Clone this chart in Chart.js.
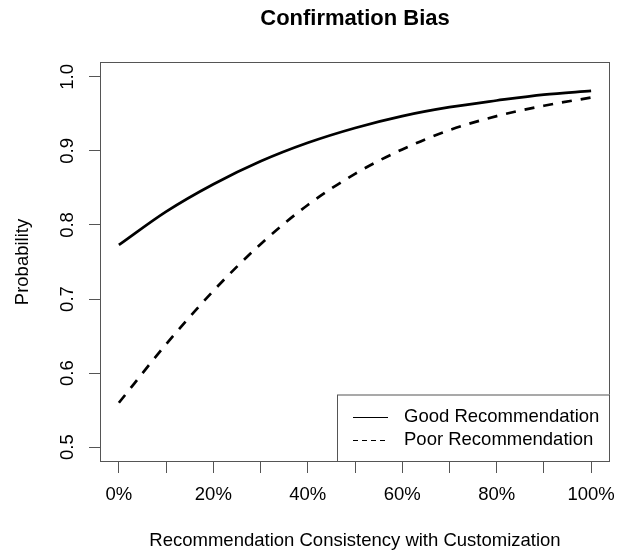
<!DOCTYPE html>
<html>
<head>
<meta charset="utf-8">
<script src="https://cdn.jsdelivr.net/npm/chart.js@4.4.1/dist/chart.umd.min.js"></script>
<style>
  html, body { margin: 0; padding: 0; background: #fff; }
  canvas { display: block; }
</style>
</head>
<body>
<canvas id="chart" width="624" height="552"></canvas>
<script>
// Share of recommendation consistency with customization (0 = 0%, 1 = 100%)
const consistency = [0, 0.1, 0.2, 0.3, 0.4, 0.5, 0.6, 0.7, 0.8, 0.9, 1.0];
// Probability for each recommendation quality
const goodRec = [0.773, 0.818, 0.855, 0.886, 0.911, 0.931, 0.947, 0.959, 0.968, 0.976, 0.981];
const poorRec = [0.560, 0.639, 0.711, 0.774, 0.827, 0.869, 0.902, 0.928, 0.947, 0.961, 0.972];
const seriesNames = ['Good Recommendation', 'Poor Recommendation'];

// Axis ticks
const xTickValues = [0, 0.1, 0.2, 0.3, 0.4, 0.5, 0.6, 0.7, 0.8, 0.9, 1.0];
const xTickLabels = ['0%', '', '20%', '', '40%', '', '60%', '', '80%', '', '100%'];
const yTickValues = [0.5, 0.6, 0.7, 0.8, 0.9, 1.0];
const yTickLabels = ['0.5', '0.6', '0.7', '0.8', '0.9', '1.0'];

const FONT = '"Liberation Sans", Arial, Helvetica, sans-serif';
const BASE = 18.5;
const FRAME = '#555';

function labelFor(values, labels, v) {
  const k = values.findIndex(t => Math.abs(t - v) < 1e-9);
  return k >= 0 ? labels[k] : '';
}

// Box around the plotting region
const frameBox = {
  id: 'frameBox',
  afterDraw(chart) {
    const {ctx, chartArea: a} = chart;
    ctx.save();
    ctx.strokeStyle = FRAME;
    ctx.lineWidth = 1;
    ctx.strokeRect(a.left + 0.5, a.top + 0.5, a.right - a.left - 1, a.bottom - a.top - 1);
    ctx.restore();
  }
};

// Boxed key in the lower right corner of the plotting region
const cornerKey = {
  id: 'cornerKey',
  afterDraw(chart) {
    const {ctx, chartArea: a} = chart;
    const boxL = a.right - 273, boxT = a.bottom - 67.5;
    ctx.save();
    ctx.fillStyle = '#fff';
    ctx.fillRect(boxL, boxT, a.right - boxL, a.bottom - boxT);
    ctx.strokeStyle = FRAME;
    ctx.lineWidth = 1;
    ctx.strokeRect(boxL + 0.5, boxT + 0.5, a.right - boxL - 1, a.bottom - boxT - 1);
    const rows = [a.bottom - 45.3, a.bottom - 22];
    chart.data.datasets.forEach((ds, i) => {
      const y = Math.round(rows[i]) + 0.5;
      ctx.beginPath();
      ctx.setLineDash(ds.borderDash && ds.borderDash.length ? [5, 4] : []);
      ctx.strokeStyle = '#000';
      ctx.lineWidth = 1;
      ctx.moveTo(a.right - 257, y);
      ctx.lineTo(a.right - 222, y);
      ctx.stroke();
      ctx.setLineDash([]);
      ctx.fillStyle = '#000';
      ctx.font = BASE + 'px ' + FONT;
      ctx.textAlign = 'left';
      ctx.textBaseline = 'middle';
      ctx.fillText(ds.label, a.right - 206, rows[i]);
    });
    ctx.restore();
  }
};

// Fixed axis boxes so the plotting region keeps its place
function fixBox(size, key) {
  return s => {
    s[key] = size;
    s.paddingLeft = 0;
    s.paddingRight = 0;
    s.paddingTop = 0;
    s.paddingBottom = 0;
  };
}

const ctx = document.getElementById('chart').getContext('2d');
new Chart(ctx, {
  type: 'line',
  data: {
    datasets: [
      {
        label: seriesNames[0],
        data: consistency.map((x, i) => ({x, y: goodRec[i]})),
        borderColor: '#000',
        borderWidth: 2.7,
        pointRadius: 0,
        fill: false,
        cubicInterpolationMode: 'monotone'
      },
      {
        label: seriesNames[1],
        data: consistency.map((x, i) => ({x, y: poorRec[i]})),
        borderColor: '#000',
        borderWidth: 2.7,
        borderDash: [10, 9],
        pointRadius: 0,
        fill: false,
        cubicInterpolationMode: 'monotone'
      }
    ]
  },
  options: {
    responsive: false,
    animation: false,
    devicePixelRatio: 1,
    layout: {padding: {left: 0, right: 14, top: 0, bottom: 0}},
    plugins: {
      legend: {display: false},
      tooltip: {enabled: false},
      title: {
        display: true,
        fullSize: false,
        text: 'Confirmation Bias',
        color: '#000',
        font: {family: FONT, size: 22, weight: 'bold', lineHeight: 1.2},
        padding: {top: 5.5, bottom: 30.1}
      }
    },
    scales: {
      x: {
        type: 'linear',
        min: -0.04,
        max: 1.04,
        afterBuildTicks: s => { s.ticks = xTickValues.map(v => ({value: v})); },
        afterFit: fixBox(90, 'height'),
        ticks: {
          autoSkip: false,
          minRotation: 0,
          maxRotation: 0,
          padding: 11,
          color: '#000',
          font: {family: FONT, size: BASE, lineHeight: 1.2},
          callback: v => labelFor(xTickValues, xTickLabels, v)
        },
        grid: {drawOnChartArea: false, drawTicks: true, tickLength: 11, color: FRAME, lineWidth: 1},
        border: {display: false},
        title: {
          display: true,
          text: 'Recommendation Consistency with Customization',
          color: '#000',
          font: {family: FONT, size: BASE, lineHeight: 1.2},
          padding: {top: 0, bottom: 0}
        }
      },
      y: {
        type: 'linear',
        min: 0.48,
        max: 1.02,
        afterBuildTicks: s => { s.ticks = yTickValues.map(v => ({value: v})); },
        afterFit: fixBox(100, 'width'),
        ticks: {
          autoSkip: false,
          minRotation: 90,
          maxRotation: 90,
          crossAlign: 'center',
          padding: 8,
          color: '#000',
          font: {family: FONT, size: BASE, lineHeight: 1.2},
          callback: v => labelFor(yTickValues, yTickLabels, v)
        },
        grid: {drawOnChartArea: false, drawTicks: true, tickLength: 11, color: FRAME, lineWidth: 1},
        border: {display: false},
        title: {
          display: true,
          text: 'Probability',
          color: '#000',
          font: {family: FONT, size: BASE, lineHeight: 1.2},
          padding: {top: 12, bottom: 0}
        }
      }
    }
  },
  plugins: [frameBox, cornerKey]
});
</script>
</body>
</html>
